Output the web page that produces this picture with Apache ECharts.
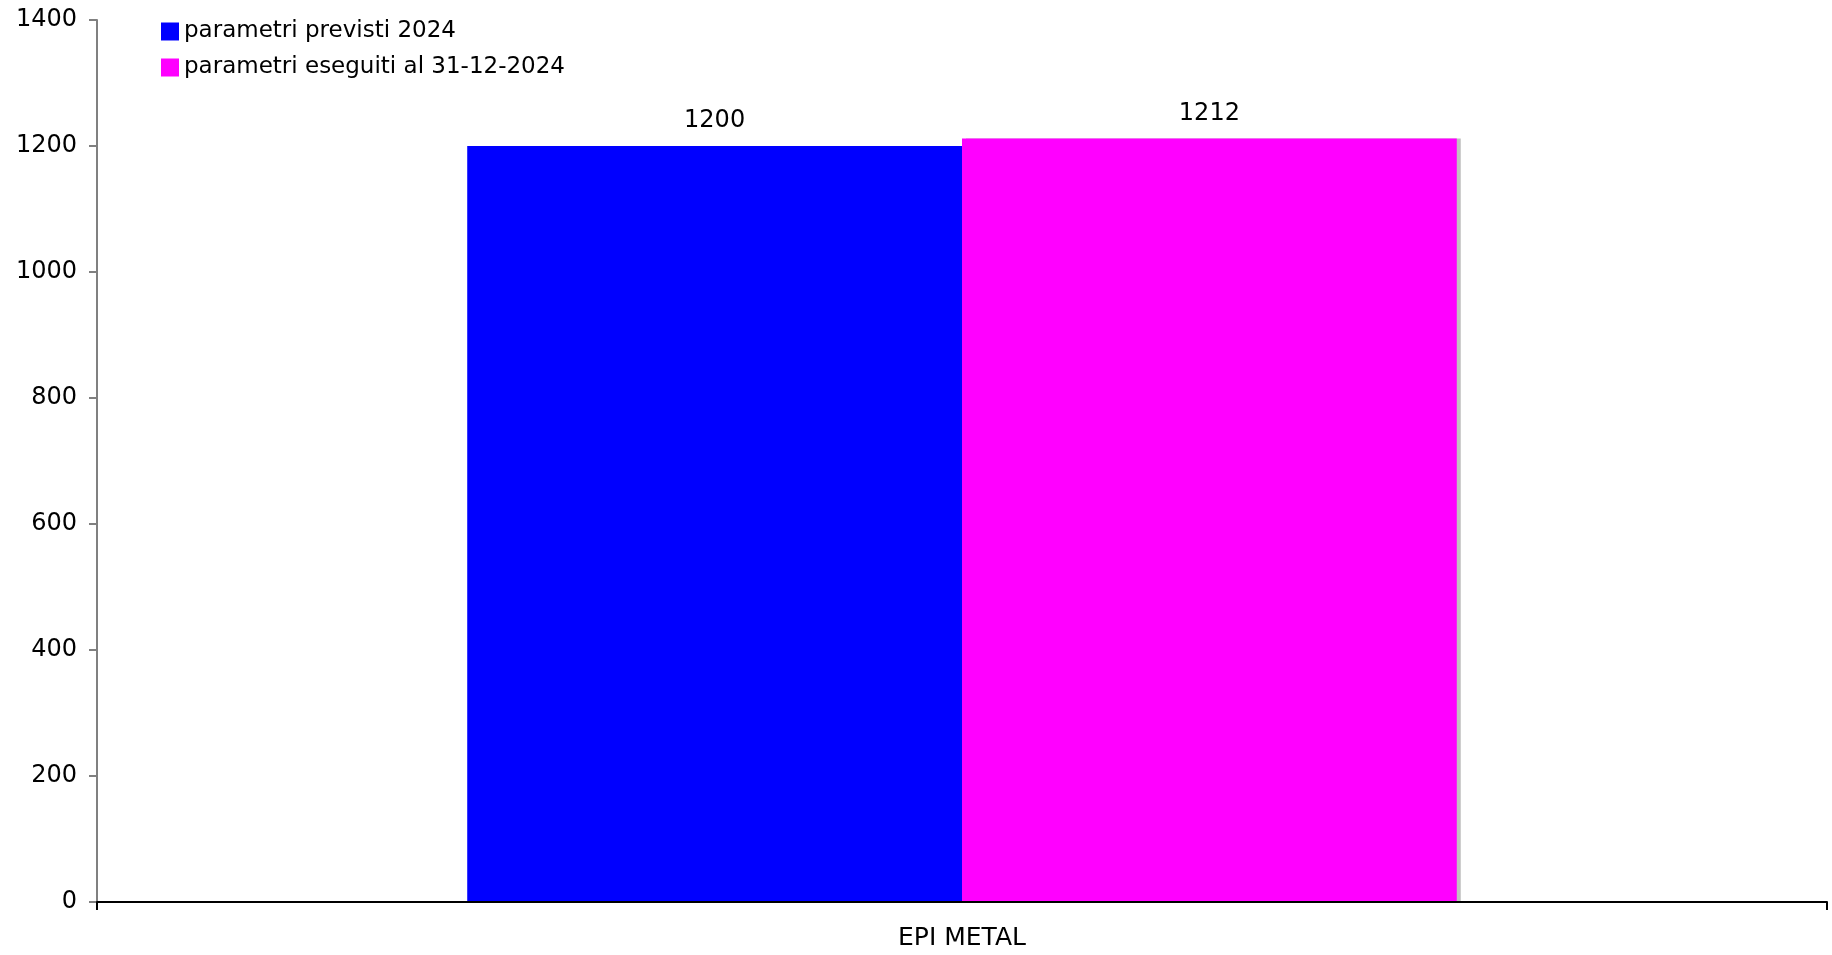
<!DOCTYPE html>
<html>
<head>
<meta charset="utf-8">
<script src="https://cdn.jsdelivr.net/npm/echarts@6/dist/echarts.min.js"></script>
<style>
html,body{margin:0;padding:0;background:#fff;}
#c{width:1832px;height:955px;}
</style>
</head>
<body>
<div id="c"></div>
<script>
const categories = ["EPI METAL"];
const seriesNames = ["parametri previsti 2024", "parametri eseguiti al 31-12-2024"];
const previsti = [1200];
const eseguiti = [1212];
const yTicks = [0, 200, 400, 600, 800, 1000, 1200, 1400];

const FONT = "DejaVu Sans";
const chart = echarts.init(document.getElementById('c'));
chart.setOption({
  backgroundColor: '#ffffff',
  animation: false,
  textStyle: { fontFamily: FONT },
  grid: { left: 97, right: 5, top: 20, bottom: 53, containLabel: false },
  legend: {
    orient: 'vertical',
    left: 156, top: 15,
    itemWidth: 18, itemHeight: 18, itemGap: 13,
    icon: 'rect',
    textStyle: { fontFamily: FONT, fontSize: 23, color: '#000' },
    data: seriesNames
  },
  xAxis: {
    type: 'category',
    data: categories,
    boundaryGap: true,
    z: 10,
    axisLine: { lineStyle: { color: '#000', width: 2 } },
    axisTick: { show: true, length: 8, lineStyle: { color: '#000', width: 2 } },
    axisLabel: { fontFamily: FONT, fontSize: 25, color: '#000', margin: 24 }
  },
  yAxis: {
    type: 'value',
    min: yTicks[0], max: yTicks[yTicks.length - 1], interval: 200,
    splitLine: { show: false },
    axisLine: { show: true, lineStyle: { color: '#808080', width: 2 } },
    axisTick: { show: true, length: 8, lineStyle: { color: '#808080', width: 2 } },
    axisLabel: { fontFamily: FONT, fontSize: 24, color: '#000', margin: 20, padding: [3, 0, 0, 0], formatter: v => String(v) }
  },
  series: [
    {
      name: seriesNames[0], type: 'bar', data: previsti,
      barGap: '0%', barCategoryGap: '42.8%',
      itemStyle: { color: '#0000ff', shadowColor: '#c0c0c0', shadowOffsetX: 4, shadowOffsetY: 0, shadowBlur: 0 },
      label: { show: true, position: 'top', distance: 13, fontFamily: FONT, fontSize: 24, color: '#000' }
    },
    {
      name: seriesNames[1], type: 'bar', data: eseguiti,
      barGap: '0%', barCategoryGap: '42.8%',
      itemStyle: { color: '#ff00ff', shadowColor: '#c0c0c0', shadowOffsetX: 4, shadowOffsetY: 0, shadowBlur: 0 },
      label: { show: true, position: 'top', distance: 13, fontFamily: FONT, fontSize: 24, color: '#000' }
    }
  ]
});
</script>
</body>
</html>
